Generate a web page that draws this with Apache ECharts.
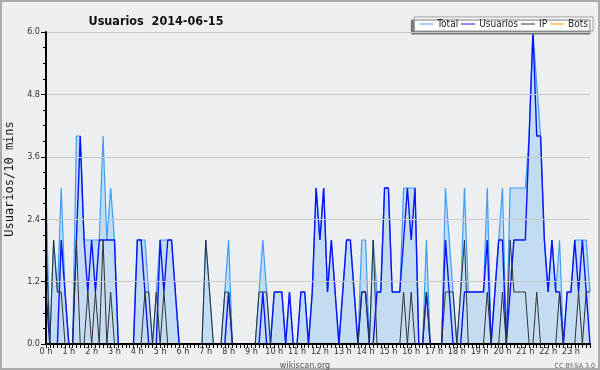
<!DOCTYPE html>
<html>
<head>
<meta charset="utf-8">
<script src="https://cdn.jsdelivr.net/npm/echarts@6/dist/echarts.min.js"></script>
<style>
  html, body { margin: 0; padding: 0; background: #efefef; }
  #chart { width: 600px; height: 370px; }
</style>
</head>
<body>
<div id="chart"></div>
<script>
const chart = echarts.init(document.getElementById('chart'))

// one point every 10 minutes, 0:00 -> 23:50
const slots = []
for (let h = 0; h < 24; h++) {
  for (let m = 0; m < 60; m += 10) slots.push(h + ':' + (m < 10 ? '0' + m : m))
}

const total = [
  3, 0, 2, 1, 3, 1,   0, 0, 4, 4, 2, 2,   2, 2, 2, 4, 2, 3,   2, 0, 0, 0, 0, 0,
  2, 2, 2, 1, 0, 1,   2, 2, 2, 2, 1, 0,   0, 0, 0, 0, 0, 0,   2, 1, 0, 0, 0, 1,
  2, 0, 0, 0, 0, 0,   0, 0, 1, 2, 1, 0,   1, 1, 1, 0, 1, 0,   0, 1, 1, 0, 1, 3,
  2, 3, 1, 2, 1, 0,   1, 2, 2, 1, 0, 2,   2, 0, 2, 1, 1, 3,   3, 1, 1, 1, 3, 3,
  3, 3, 0, 0, 2, 0,   0, 0, 0, 3, 2, 1,   0, 1, 3, 1, 1, 1,   1, 1, 3, 0, 1, 2,
  3, 0, 3, 3, 3, 3,   3, 4, 6, 5, 4, 2,   1, 2, 1, 2, 0, 1,   1, 2, 2, 2, 2, 1
]
const usuarios = [
  1, 0, 0, 0, 2, 1,   0, 0, 2, 4, 2, 1,   2, 1, 2, 2, 2, 2,   2, 0, 0, 0, 0, 0,
  2, 2, 1, 0, 0, 0,   2, 1, 2, 2, 1, 0,   0, 0, 0, 0, 0, 0,   0, 0, 0, 0, 0, 0,
  1, 0, 0, 0, 0, 0,   0, 0, 0, 1, 0, 0,   1, 1, 1, 0, 1, 0,   0, 1, 1, 0, 1, 3,
  2, 3, 1, 2, 1, 0,   1, 2, 2, 1, 0, 1,   1, 0, 0, 1, 1, 3,   3, 1, 1, 1, 2, 3,
  2, 3, 0, 0, 1, 0,   0, 0, 0, 2, 1, 0,   0, 0, 1, 1, 1, 1,   1, 1, 2, 0, 1, 2,
  2, 0, 1, 2, 2, 2,   2, 4, 6, 4, 4, 2,   1, 2, 1, 1, 0, 1,   1, 2, 1, 2, 1, 0
]
const ip = [
  2, 0, 2, 1, 1, 0,   0, 0, 2, 0, 0, 1,   0, 1, 0, 2, 0, 1,   0, 0, 0, 0, 0, 0,
  0, 0, 1, 1, 0, 1,   0, 1, 0, 0, 0, 0,   0, 0, 0, 0, 0, 0,   2, 1, 0, 0, 0, 1,
  1, 0, 0, 0, 0, 0,   0, 0, 1, 1, 1, 0,   0, 0, 0, 0, 0, 0,   0, 0, 0, 0, 0, 0,
  0, 0, 0, 0, 0, 0,   0, 0, 0, 0, 0, 1,   1, 0, 2, 0, 0, 0,   0, 0, 0, 0, 1, 0,
  1, 0, 0, 0, 1, 0,   0, 0, 0, 1, 1, 1,   0, 1, 2, 0, 0, 0,   0, 0, 1, 0, 0, 0,
  1, 0, 2, 1, 1, 1,   1, 0, 0, 1, 0, 0,   0, 0, 0, 1, 0, 0,   0, 0, 1, 0, 1, 1
]
const bots = new Array(144).fill(0)

const font = "'DejaVu Sans Condensed', 'DejaVu Sans'"

let option = {
  backgroundColor: '#efefef',
  animation: false,
  title: [
    {
      text: 'Usuarios  2014-06-15',
      left: 151,
      top: 10,
      textAlign: 'center',
      textStyle: { fontFamily: font, fontSize: 12.5, fontWeight: 'bold', color: '#111' }
    },
    {
      text: 'wikiscan.org',
      left: 300,
      top: 356,
      textAlign: 'center',
      textStyle: { fontFamily: font, fontSize: 9, fontWeight: 'normal', color: '#555' }
    },
    {
      text: 'CC BY-SA 3.0',
      left: 590,
      top: 358,
      textAlign: 'right',
      textStyle: { fontFamily: font, fontSize: 7, fontWeight: 'normal', color: '#666' }
    }
  ],
  legend: {
    right: 7,
    top: 17,
    padding: [2, 5, 2, 5],
    itemGap: 3,
    itemWidth: 14,
    itemHeight: 1,
    icon: 'rect',
    backgroundColor: '#ffffff',
    borderColor: '#999',
    borderWidth: 1,
    borderRadius: 0,
    shadowColor: '#777',
    shadowBlur: 0,
    shadowOffsetX: -3,
    shadowOffsetY: 3,
    textStyle: { fontFamily: font, fontSize: 10, color: '#222', padding: [0, 0, 0, -1] },
    data: ['Total', 'Usuarios', 'IP', 'Bots']
  },
  grid: {
    left: 46,
    right: 10,
    top: 32,
    bottom: 26,
    outerBoundsMode: 'none',
    show: true,
    backgroundColor: '#eceef0',
    borderWidth: 0
  },
  xAxis: {
    type: 'category',
    data: slots,
    boundaryGap: false,
    z: 10,
    axisLine: { lineStyle: { color: '#000', width: 2 } },
    axisTick: { show: true, interval: 0, length: 4, lineStyle: { color: '#000' } },
    axisLabel: {
      interval: 5,
      margin: 3,
      fontFamily: font,
      fontSize: 9,
      color: '#333',
      formatter: (v, idx) => (idx / 6) + ' h'
    },
    splitLine: { show: false }
  },
  yAxis: {
    type: 'value',
    min: 0,
    max: 6,
    interval: 1.2,
    z: 10,
    name: 'Usuarios/10 mins',
    nameLocation: 'middle',
    nameGap: 29,
    nameTextStyle: { fontFamily: 'DejaVu Sans Mono', fontSize: 12, color: '#111', padding: [0, 0, 0, 18] },
    axisLine: { show: true, lineStyle: { color: '#000', width: 2 } },
    axisTick: { show: true, length: 5, lineStyle: { color: '#000' } },
    minorTick: { show: true, splitNumber: 4, length: 3, lineStyle: { color: '#000' } },
    axisLabel: {
      margin: 6,
      fontFamily: font,
      fontSize: 9,
      color: '#333',
      formatter: v => v.toFixed(1)
    },
    splitLine: { lineStyle: { color: '#c8c8c8', width: 1 } }
  },
  series: [
    {
      name: 'Total',
      type: 'line',
      data: total,
      showSymbol: false,
      lineStyle: { color: '#3aa0ff', width: 1.2 },
      itemStyle: { color: '#3aa0ff' },
      areaStyle: { color: '#c4dcf1', opacity: 1 }
    },
    {
      name: 'Usuarios',
      type: 'line',
      data: usuarios,
      showSymbol: false,
      lineStyle: { color: '#0a14ff', width: 1.4 },
      itemStyle: { color: '#0a14ff' }
    },
    {
      name: 'IP',
      type: 'line',
      data: ip,
      showSymbol: false,
      lineStyle: { color: '#333', width: 1 },
      itemStyle: { color: '#333' }
    },
    {
      name: 'Bots',
      type: 'line',
      data: bots,
      showSymbol: false,
      lineStyle: { color: '#ff9900', width: 1 },
      itemStyle: { color: '#ff9900' }
    }
  ],
  graphic: [
    {
      type: 'rect',
      silent: true,
      shape: { x: 1, y: 1, width: 598, height: 368 },
      style: { fill: null, stroke: '#aaa', lineWidth: 2 }
    }
  ]
}
chart.setOption(option)
</script>
</body>
</html>
